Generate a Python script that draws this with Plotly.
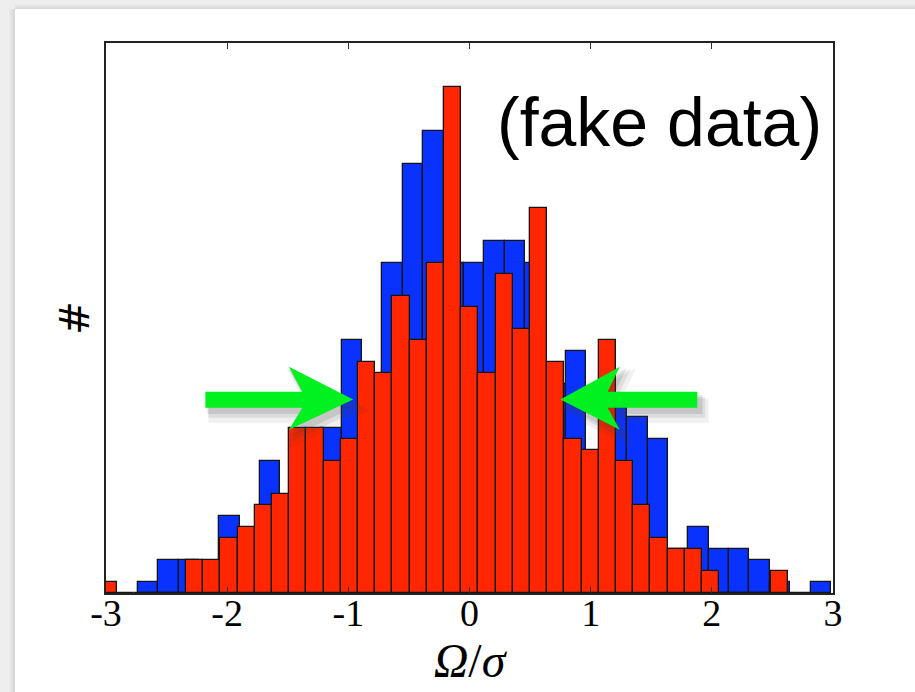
import numpy as np
import plotly.graph_objects as go

# ---------------- data ----------------
blue_range = (-2.738, 2.984)          # histogram range of the blue sample
blue_counts = [1, 3, 3, 2, 7, 5, 12, 8, 13, 15, 23, 19, 30, 39, 42, 30, 30,
               32, 32, 30, 19, 22, 12, 18, 16, 14, 4, 6, 4, 4, 3, 1, 0, 1]

red_range = (-3.0495, 2.628)          # histogram range of the red sample
red_counts = [1, 0, 0, 0, 0, 3, 3, 5, 6, 8, 9, 15, 15, 12, 14, 21, 20, 27, 23,
              30, 46, 26, 20, 29, 24, 35, 21, 14, 13, 23, 12, 8, 5, 4, 4, 2,
              0, 0, 0, 2]

x_ticks = [-3, -2, -1, 0, 1, 2, 3]
x_tick_labels = ["-3", "-2", "-1", "0", "1", "2", "3"]
x_title = "<i>Ω</i>/<i>σ</i>"
y_title = "#"
note_text = "(fake data)"

# ---------------- helpers ----------------
def hist_bars(rng, counts):
    edges = np.linspace(rng[0], rng[1], len(counts) + 1)
    centers = 0.5 * (edges[:-1] + edges[1:])
    widths = np.diff(edges)
    return centers, widths, counts

W, H = 915, 692
L, R, T, B = 106, 82, 43, 99
PW, PH = W - L - R, H - T - B


def px_to_paper(px, py):
    return (px - L) / PW, (H - B - py) / PH


fig = go.Figure()

bc, bw, bv = hist_bars(blue_range, blue_counts)
fig.add_trace(go.Bar(x=bc, y=bv, width=bw, name="blue",
                     marker=dict(color="#0a32ff",
                                 line=dict(color="#151515", width=1.3))))
rc, rw, rv = hist_bars(red_range, red_counts)
fig.add_trace(go.Bar(x=rc, y=rv, width=rw, name="red",
                     marker=dict(color="#ff2600",
                                 line=dict(color="#151515", width=1.3))))

shapes = []

# --- slide-like frame: grey margins on the left and top with a soft shadow
def paper_rect(x0, y0, x1, y1, color, opacity=1.0):
    a0, b0 = px_to_paper(x0, y1)
    a1, b1 = px_to_paper(x1, y0)
    return dict(type="rect", xref="paper", yref="paper", x0=a0, x1=a1,
                y0=b0, y1=b1, fillcolor=color, line=dict(width=0),
                opacity=opacity, layer="below")

shapes.append(paper_rect(0, 0, 15, H, "#eeeeee"))
shapes.append(paper_rect(0, 0, W, 9, "#eeeeee"))
for i, c in enumerate(["#e8e8e8", "#e0e0e0", "#d8d8d8"]):
    shapes.append(paper_rect(9 + 2 * i, 9, 11 + 2 * i, H, c))
    shapes.append(paper_rect(15, 4 + 1.7 * i, W, 5.7 + 1.7 * i, c))

# --- green arrows (data coordinates), with a soft drop shadow
def arrow_path(tail, notch, back, tip, y_lo, y_hi, h_lo, h_hi, y_tip, dx=0.0, dy=0.0):
    pts = [(tail, y_lo), (notch, y_lo), (back, h_lo), (tip, y_tip),
           (back, h_hi), (notch, y_hi), (tail, y_hi)]
    return "M " + " L ".join(f"{x + dx},{y + dy}" for x, y in pts) + " Z"

arrows = [
    (-2.18, -1.38, -1.49, -0.96),
    (1.88, 1.14, 1.24, 0.75),
]
for tail, notch, back, tip in arrows:
    for (dx, dy, op, lw) in [(0.06, -1.0, 0.07, 8), (0.045, -0.7, 0.10, 5),
                             (0.03, -0.45, 0.14, 3)]:
        shapes.append(dict(type="path", xref="x", yref="y",
                           path=arrow_path(tail, notch, back, tip, 16.85, 18.3,
                                           14.85, 20.57, 17.6, dx, dy),
                           fillcolor="#404040", opacity=op,
                           line=dict(width=lw, color="#404040"), layer="above"))
    shapes.append(dict(type="path", xref="x", yref="y",
                       path=arrow_path(tail, notch, back, tip, 16.85, 18.3,
                                       14.85, 20.57, 17.6),
                       fillcolor="#00f020", line=dict(width=0), layer="above"))

nx, ny = px_to_paper(659, 122)
fig.update_layout(
    width=W, height=H, autosize=False,
    margin=dict(l=L, r=R, t=T, b=B),
    paper_bgcolor="white", plot_bgcolor="white",
    barmode="overlay", bargap=0, showlegend=False,
    shapes=shapes,
    annotations=[dict(text=note_text, xref="paper", yref="paper", x=nx, y=ny,
                      xanchor="center", yanchor="middle", showarrow=False,
                      font=dict(family="Liberation Sans, Arial, sans-serif",
                                size=68, color="black"))],
    xaxis=dict(range=[-3, 3], tickvals=x_ticks, ticktext=x_tick_labels,
               ticks="inside", ticklen=6, tickcolor="#333", tickwidth=1,
               ticklabelstandoff=-14,
               showline=True, linecolor="#222", linewidth=1.5, mirror="ticks",
               showgrid=False, zeroline=False,
               tickfont=dict(family="Liberation Serif, Times New Roman, serif",
                             size=38, color="black"),
               title=dict(text=x_title, standoff=0,
                          font=dict(family="Liberation Serif, Times New Roman, serif",
                                    size=48, color="black"))),
    yaxis=dict(range=[0, 50], showticklabels=False, ticks="",
               showline=True, linecolor="#222", linewidth=1.5, mirror=True,
               showgrid=False, zeroline=False,
               title=dict(text=y_title, standoff=2,
                          font=dict(family="DejaVu Sans, sans-serif",
                                    size=40, color="black"))),
)

fig.write_html("out.html", config={"displayModeBar": False},
               post_script="document.body.style.margin='0';document.body.style.overflow='hidden';")
